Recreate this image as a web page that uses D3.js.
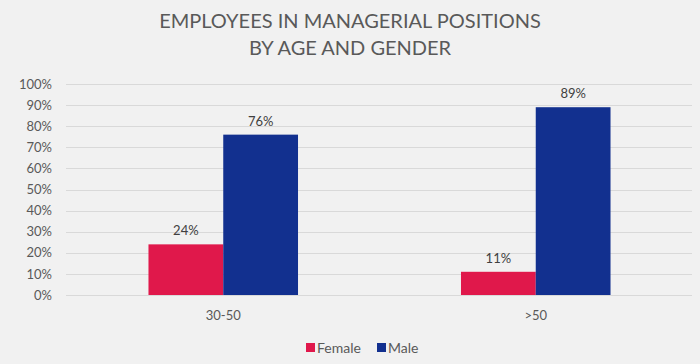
<!DOCTYPE html>
<html><head><meta charset="utf-8">
<script src="https://cdn.jsdelivr.net/npm/d3@7"></script>
<style>
html,body{margin:0;padding:0;background:#f1f1f1;}
svg{display:block;font-family:Lato, "Open Sans", sans-serif;}
</style></head>
<body>
<svg id="chart" width="700" height="364"></svg>
<script>
const titleLines = ["EMPLOYEES IN MANAGERIAL POSITIONS", "BY AGE AND GENDER"];
const categories = ["30-50", ">50"];
const seriesNames = ["Female", "Male"];
const female = [0.24, 0.11];
const male = [0.76, 0.89];
const yTicks = [0,0.1,0.2,0.3,0.4,0.5,0.6,0.7,0.8,0.9,1.0];
const colors = ["#e0184b", "#12308f"];

const svg = d3.select("#chart");
const W = 700, H = 364;
svg.append("rect").attr("width", W).attr("height", H).attr("fill", "#f1f1f1");

const m = {left: 67, right: 8, top: 84, bottom: 69};
const x0 = d3.scaleBand().domain(categories).range([m.left, W - m.right])
  .paddingInner(0.5215).paddingOuter(0.26075);
const x1 = d3.scaleBand().domain(seriesNames).range([0, x0.bandwidth()]).padding(0);
const y = d3.scaleLinear().domain([0, 1]).range([H - m.bottom, m.top]);

// gridlines
svg.append("g").selectAll("line").data(yTicks).join("line")
  .attr("x1", 66).attr("x2", W - m.right)
  .attr("y1", d => Math.round(y(d)) + 0.5).attr("y2", d => Math.round(y(d)) + 0.5)
  .attr("stroke", "#d9d9d9").attr("stroke-width", 1);

// y axis labels
const yAxis = d3.axisLeft(y).tickValues(yTicks).tickFormat(d3.format(".0%")).tickSize(0).tickPadding(15);
const ga = svg.append("g").attr("transform", `translate(${m.left},0)`).call(yAxis);
ga.select(".domain").remove();
ga.selectAll("text").attr("fill", "#595959").style("font-size", "13px").style("font-family", "Lato, sans-serif");

// x axis labels
const xAxis = d3.axisBottom(x0).tickSize(0).tickPadding(16);
const gx = svg.append("g").attr("transform", `translate(0,${H - m.bottom})`).call(xAxis);
gx.select(".domain").remove();
gx.selectAll("text").attr("fill", "#595959").style("font-size", "13px").style("font-family", "Lato, sans-serif");

const data = categories.map((c, i) => ({cat: c, vals: [
  {s: seriesNames[0], v: female[i]}, {s: seriesNames[1], v: male[i]}]}));

const groups = svg.append("g").selectAll("g").data(data).join("g")
  .attr("transform", d => `translate(${x0(d.cat)},0)`);
groups.selectAll("rect").data(d => d.vals).join("rect")
  .attr("x", d => x1(d.s)).attr("width", x1.bandwidth())
  .attr("y", d => y(d.v)).attr("height", d => y(0) - y(d.v))
  .attr("fill", (d, i) => colors[i]);
groups.selectAll("text").data(d => d.vals).join("text")
  .attr("x", d => x1(d.s) + x1.bandwidth() / 2)
  .attr("y", d => y(d.v) - 9)
  .attr("text-anchor", "middle").attr("fill", "#404040")
  .style("font-size", "13px")
  .text(d => d3.format(".0%")(d.v));

// title
svg.append("g").selectAll("text").data(titleLines).join("text")
  .attr("x", W / 2).attr("y", (d, i) => 28 + i * 27)
  .attr("text-anchor", "middle").attr("fill", "#595959")
  .style("font-size", "20px")
  .text(d => d);

// legend
const legend = svg.append("g").attr("transform", "translate(306,343)");
const li = legend.selectAll("g").data(seriesNames).join("g")
  .attr("transform", (d, i) => `translate(${i * 71},0)`);
li.append("rect").attr("width", 9).attr("height", 9).attr("fill", (d, i) => colors[i]);
li.append("text").attr("x", 11).attr("y", 9.5).attr("fill", "#595959")
  .style("font-size", "14px").text(d => d);
</script>
</body></html>
